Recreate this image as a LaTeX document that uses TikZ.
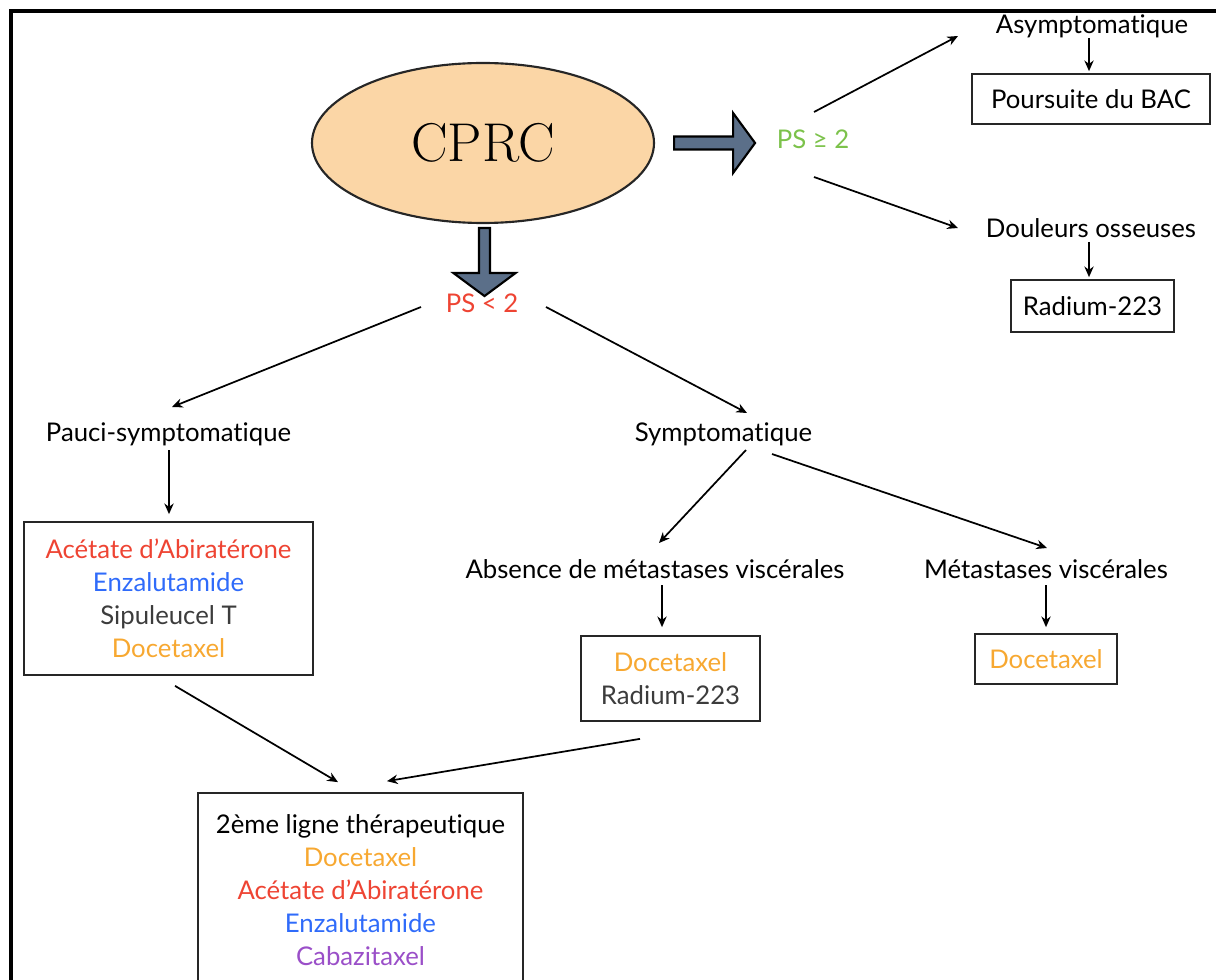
\documentclass[tikz,border=0pt]{standalone}
\usepackage{fontspec}
\setsansfont{Lato}[Ligatures=CommonOff]
\usetikzlibrary{shapes.geometric,arrows.meta,calc}
\definecolor{peach}{HTML}{FBD6A6}
\definecolor{slate}{HTML}{5B6F89}
\definecolor{cred}{HTML}{EE4433}
\definecolor{cblue}{HTML}{2F6BFA}
\definecolor{corange}{HTML}{F7A831}
\definecolor{cpurple}{HTML}{9A4FC8}
\definecolor{cgreen}{HTML}{7CC24B}
\definecolor{cgray}{HTML}{3C3C3C}
\begin{document}
\begin{tikzpicture}[x=0.75pt,y=-0.75pt,
  lbl/.style={font=\sffamily\fontsize{19.3}{24.75}\selectfont, inner sep=0pt, anchor=base},
  box/.style={draw=black!85, line width=1.3pt, font=\sffamily\fontsize{19.3}{24.75}\selectfont, align=center, inner sep=0pt, anchor=center},
  arr/.style={line width=1.3pt, -{Stealth[length=8pt,width=7pt]}},
  blockarrow/.style={draw=black, line width=1.6pt, fill=slate, line join=miter}]
\useasboundingbox (0,0) rectangle (1216,980);
\clip (0,0) rectangle (1216,980);
% frame
\draw[line width=2.6pt] (11,1000) -- (11,11) -- (1240,11);

% main node
\node[ellipse, draw=black!85, line width=1.6pt, fill=peach, minimum width=256.5pt, minimum height=120pt, inner sep=0pt] (cprc) at (483,143) {\fontsize{41}{41}\selectfont CPRC};

% block arrows
\draw[blockarrow] ($(cprc.east)+(19,-6.5)$) -- ($(cprc.east)+(78,-6.5)$) -- ($(cprc.east)+(78,-30)$) -- ($(cprc.east)+(100,0)$) -- ($(cprc.east)+(78,30)$) -- ($(cprc.east)+(78,6.5)$) -- ($(cprc.east)+(19,6.5)$) -- cycle;
\draw[blockarrow] ($(cprc.south)+(-4,4)$) -- ($(cprc.south)+(-4,49)$) -- ($(cprc.south)+(-29.5,49)$) -- ($(cprc.south)+(1.5,72)$) -- ($(cprc.south)+(32.5,49)$) -- ($(cprc.south)+(7,49)$) -- ($(cprc.south)+(7,4)$) -- cycle;

% right branch
\node[lbl, text=cgreen] (psg) at (813,149) {PS ≥ 2};
\node[lbl] (asym) at (1092,34) {Asymptomatique};
\node[box, minimum width=178.5pt, minimum height=37.5pt] (pours) at (1091,99) {Poursuite du BAC};
\node[lbl] (doul) at (1091,238) {Douleurs osseuses};
\node[box, minimum width=122pt, minimum height=39pt] (rad1) at (1092.5,306) {Radium-223};

% left branch
\node[lbl, text=cred] (psl) at (482,313) {PS < 2};
\node[lbl] (pauci) at (168.5,441) {Pauci-symptomatique};
\node[lbl] (sympt) at (723.5,441) {Symptomatique};
\node[lbl] (absence) at (655,578) {Absence de métastases viscérales};
\node[lbl] (meta) at (1046,578) {Métastases viscérales};

\node[box, minimum width=216.75pt, minimum height=114.75pt] (box1) at (168.5,598.5) {%
  \textcolor{cred}{Acétate d’Abiratérone}\\
  \textcolor{cblue}{Enzalutamide}\\
  \textcolor{cgray}{Sipuleucel T}\\
  \textcolor{corange}{Docetaxel}};
\node[box, minimum width=134.25pt, minimum height=63.75pt] (boxdr) at (670.5,678.5) {%
  \textcolor{corange}{Docetaxel}\\
  \textcolor{cgray}{Radium-223}};
\node[box, minimum width=106.5pt, minimum height=37.5pt] (boxdoc) at (1046,659) {\textcolor{corange}{Docetaxel}};
\node[box, minimum width=243.75pt, minimum height=145.5pt] (box2) at (360.5,890) {%
  2ème ligne thérapeutique\\
  \textcolor{corange}{Docetaxel}\\
  \textcolor{cred}{Acétate d’Abiratérone}\\
  \textcolor{cblue}{Enzalutamide}\\
  \textcolor{cpurple}{Cabazitaxel}};

% connectors
\draw[arr] ($(psg.base)+(1,-37)$) -- ($(asym.base)+(-134,2)$);
\draw[arr] ($(psg.base)+(1,28)$) -- ($(doul.base)+(-133,-10)$);
\draw[arr] ($(asym.base)+(-3,4)$) -- ($(pours.north)+(-2,-2)$);
\draw[arr] ($(doul.base)+(-2,4)$) -- ($(rad1.north)+(-3.5,-2)$);
\draw[arr] ($(psl.base)+(-61,-6)$) -- ($(pauci.base)+(3.5,-34)$);
\draw[arr] ($(psl.base)+(64,-6)$) -- ($(sympt.base)+(23.5,-28)$);
\draw[arr] ($(pauci.base)+(0.5,9)$) -- ($(box1.north)+(0.5,-7)$);
\draw[arr] ($(sympt.base)+(22.5,9)$) -- ($(absence.base)+(4,-35)$);
\draw[arr] ($(sympt.base)+(48.5,13)$) -- ($(meta.base)+(1,-30)$);
\draw[arr] ($(absence.base)+(7,7)$) -- ($(boxdr.north)+(-8.5,-8)$);
\draw[arr] ($(meta.base)+(0,7)$) -- ($(boxdoc.north)+(0,-6)$);
\draw[arr] ($(box1.south)+(6.5,10)$) -- ($(box2.north)+(-22.5,-10)$);
\draw[arr] ($(boxdr.south)+(-30.5,17)$) -- ($(box2.north)+(26.5,-11)$);
\end{tikzpicture}
\end{document}
